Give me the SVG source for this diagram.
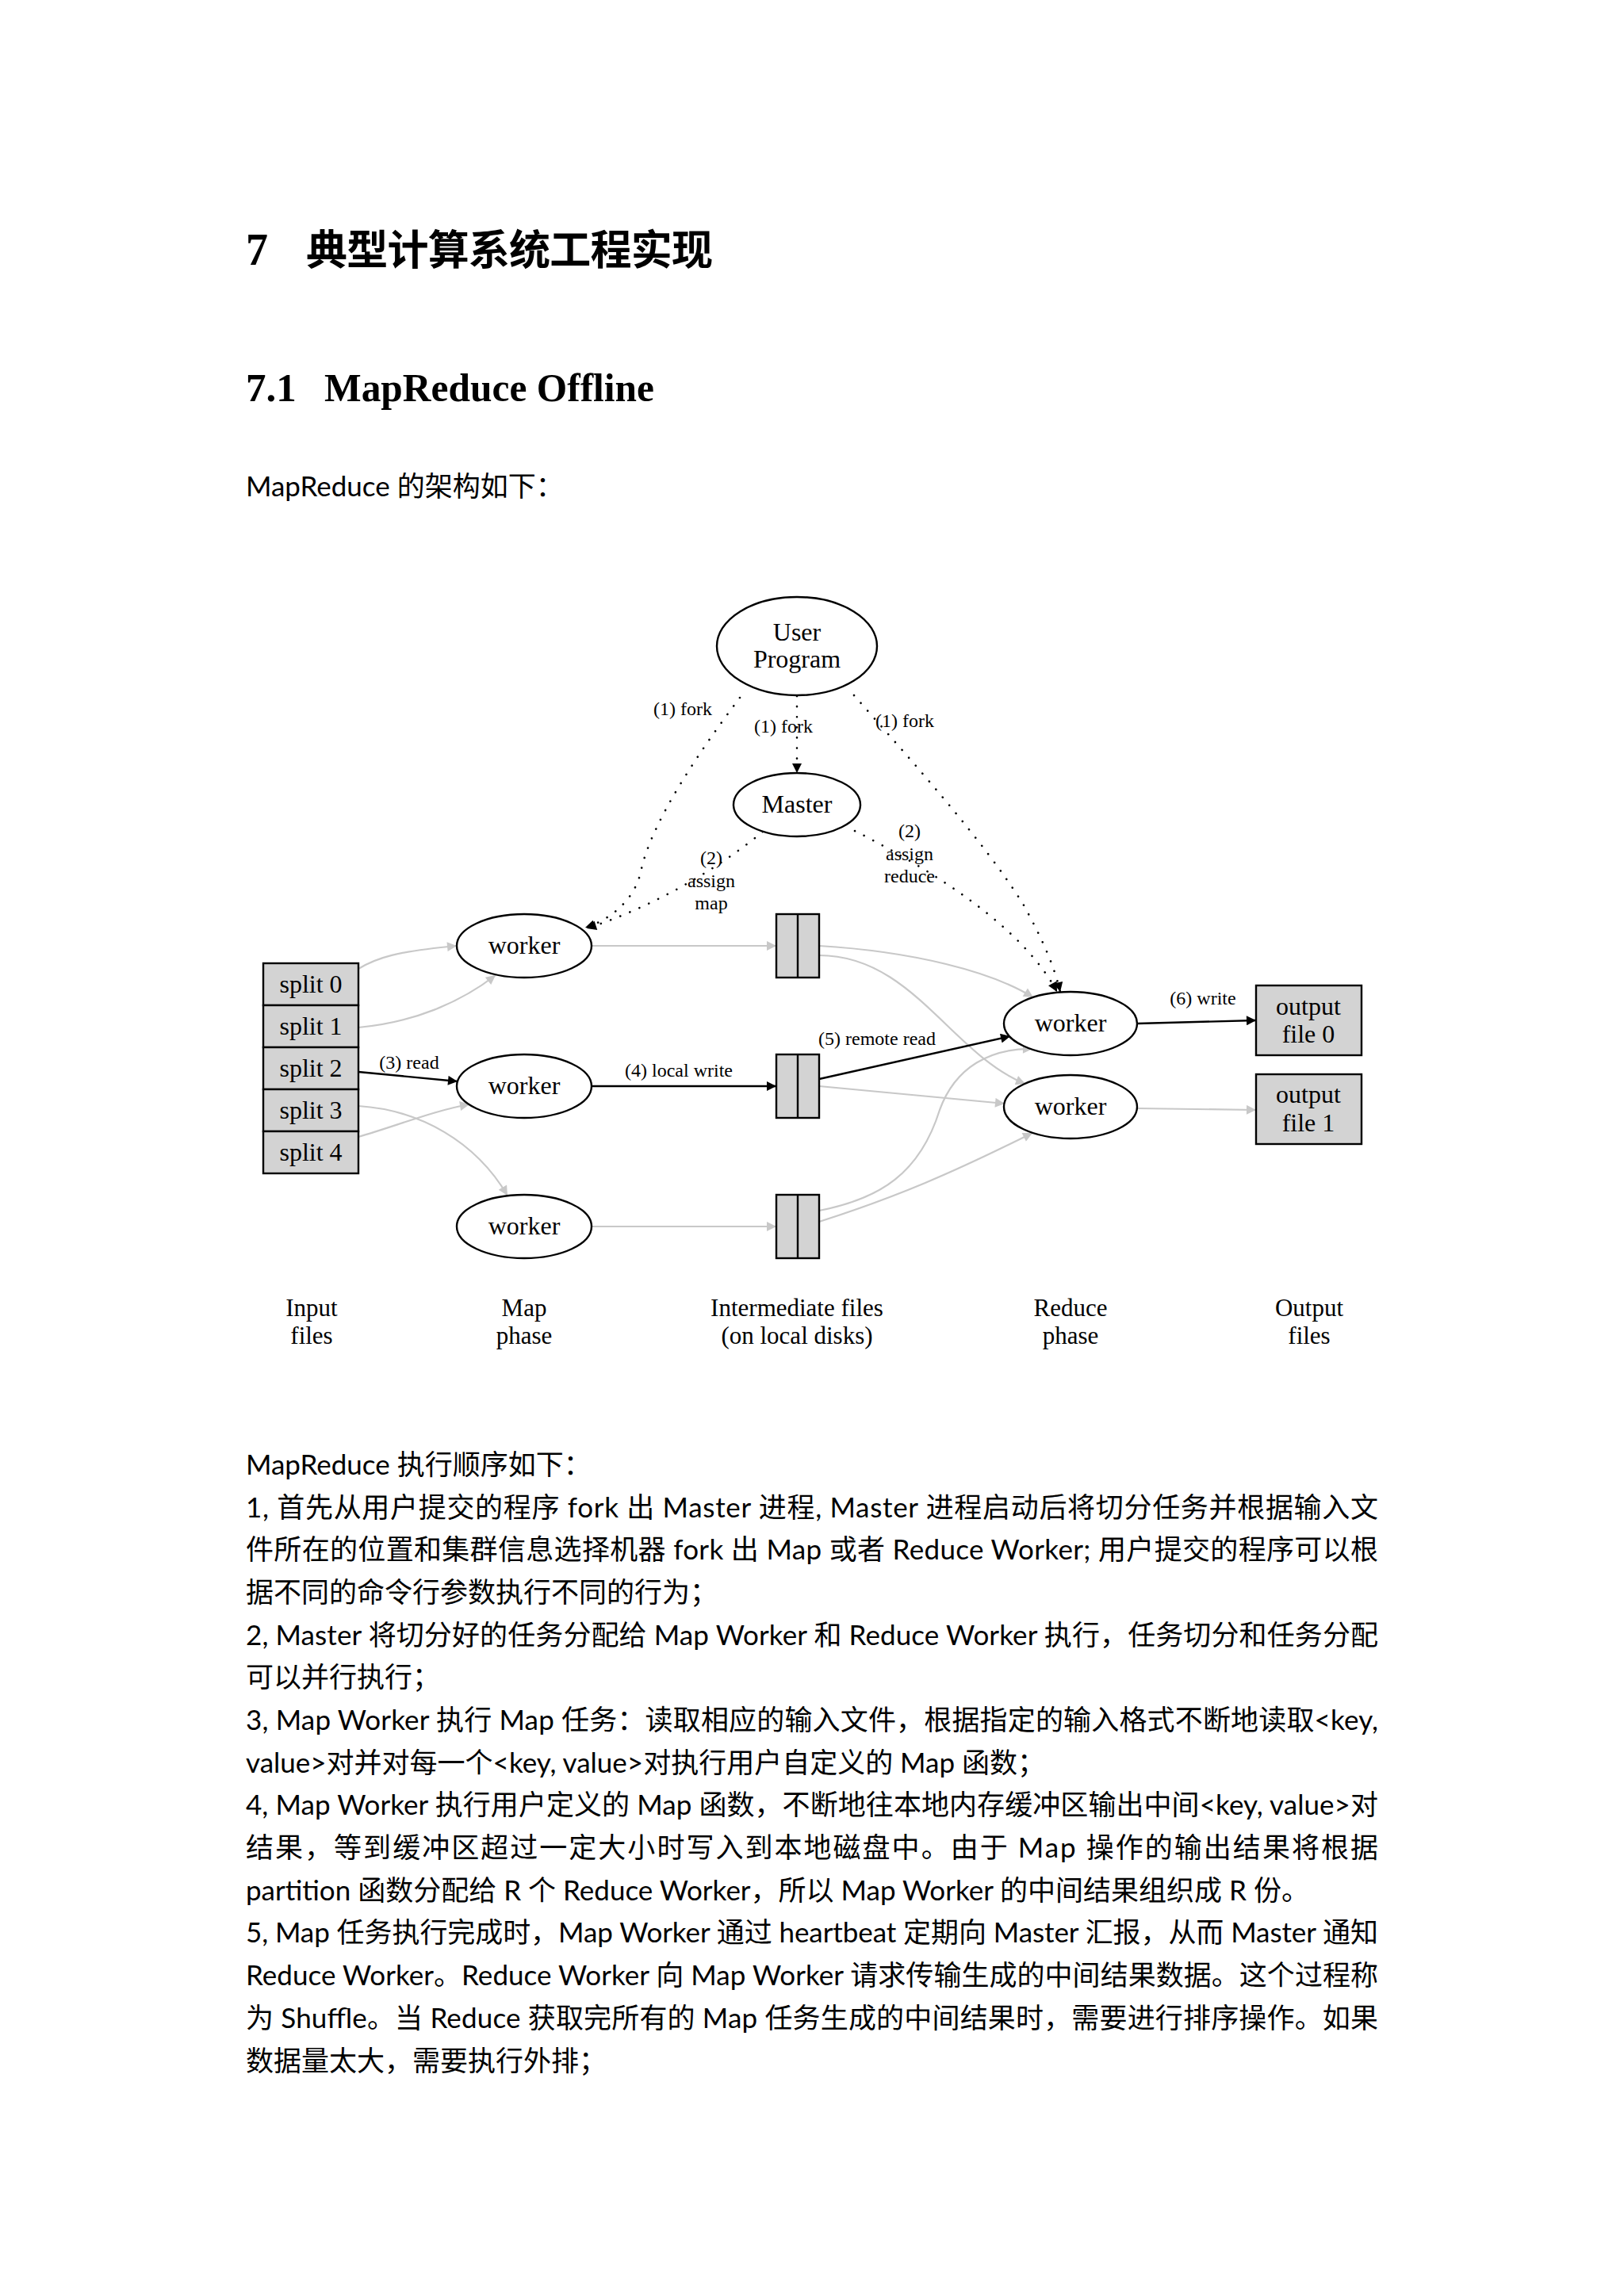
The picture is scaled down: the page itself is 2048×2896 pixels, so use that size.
<svg xmlns="http://www.w3.org/2000/svg" width="2048" height="2896" viewBox="0 0 2048 2896">
<style>
.serif{font-family:"Liberation Serif","Times New Roman",serif;fill:#000}
.node{font-size:32px;text-anchor:middle}
.elab{font-size:24px;text-anchor:middle}
.phase{font-size:31px;text-anchor:middle}
.body{font-family:Lato,"Noto Sans CJK SC",sans-serif;font-size:35px;fill:#000}
.gray{fill:none;stroke:#c8c8c8;stroke-width:2.2}
.blk{fill:none;stroke:#000;stroke-width:2.4}
.dot{fill:none;stroke:#000;stroke-width:2.6;stroke-dasharray:0.1 13;stroke-linecap:round}
.ell{fill:#fff;stroke:#000;stroke-width:2.4}
.box{fill:#d3d3d3;stroke:#000;stroke-width:2.4}
</style>
<defs>
<marker id="ab" viewBox="0 0 10 10" refX="10" refY="5" markerWidth="18" markerHeight="12" markerUnits="userSpaceOnUse" orient="auto"><path d="M0,0 L10,5 L0,10 z" fill="#000"/></marker>
<marker id="ag" viewBox="0 0 10 10" refX="10" refY="5" markerWidth="18" markerHeight="12" markerUnits="userSpaceOnUse" orient="auto"><path d="M0,0 L10,5 L0,10 z" fill="#c8c8c8"/></marker>
</defs>
<rect width="2048" height="2896" fill="#fff"/>

<g id="headings">
<text x="310" y="334" font-family="Liberation Serif,serif" font-weight="bold" font-size="56">7</text>
<text x="386" y="334" font-family="'Noto Sans CJK SC',sans-serif" font-weight="bold" font-size="52" textLength="513" lengthAdjust="spacing">典型计算系统工程实现</text>
<text x="310" y="506" font-family="Liberation Serif,serif" font-weight="bold" font-size="51">7.1</text>
<text x="409" y="506" font-family="Liberation Serif,serif" font-weight="bold" font-size="51" textLength="416" lengthAdjust="spacingAndGlyphs">MapReduce Offline</text>
<text class="body" x="310" y="626">MapReduce 的架构如下：</text>
</g>

<g id="connectors">
<!-- dotted control edges -->
<path class="dot" d="M933,880 C880,950 820,1040 808,1100 C800,1135 770,1160 738,1170" marker-end="url(#ab)"/>
<path class="dot" d="M962,1049 C900,1100 820,1145 740,1171" marker-end="url(#ab)"/>
<path class="dot" d="M1005,878 L1005,975" marker-end="url(#ab)"/>
<path class="dot" d="M1077,877 C1150,960 1240,1060 1290,1140 C1315,1185 1330,1220 1337,1251" marker-end="url(#ab)"/>
<path class="dot" d="M1078,1048 C1180,1100 1290,1170 1333,1251" marker-end="url(#ab)"/>
<!-- input splits to map workers -->
<path class="gray" d="M452,1222 C475,1208 500,1200 576,1193" marker-end="url(#ag)"/>
<path class="gray" d="M452,1296 C520,1290 580,1265 625,1230" marker-end="url(#ag)"/>
<path class="blk" d="M452,1352 L577,1364" marker-end="url(#ab)"/>
<path class="gray" d="M452,1395 C530,1400 600,1440 640,1508" marker-end="url(#ag)"/>
<path class="gray" d="M452,1434 C500,1420 550,1400 592,1393" marker-end="url(#ag)"/>
<!-- map workers to intermediate files -->
<path class="gray" d="M746,1193 L979,1193" marker-end="url(#ag)"/>
<path class="blk" d="M746,1370 L979,1370" marker-end="url(#ab)"/>
<path class="gray" d="M746,1547 L979,1547" marker-end="url(#ag)"/>
<!-- intermediate files to reduce workers -->
<path class="gray" d="M1033,1193 C1150,1200 1250,1225 1303,1258" marker-end="url(#ag)"/>
<path class="gray" d="M1033,1205 C1150,1205 1200,1330 1293,1367" marker-end="url(#ag)"/>
<path class="blk" d="M1033,1361 L1274,1307" marker-end="url(#ab)"/>
<path class="gray" d="M1033,1370 L1267,1392" marker-end="url(#ag)"/>
<path class="gray" d="M1033,1527 C1110,1512 1160,1480 1185,1400 C1205,1345 1250,1322 1302,1323" marker-end="url(#ag)"/>
<path class="gray" d="M1033,1541 C1130,1510 1200,1480 1302,1429" marker-end="url(#ag)"/>
<!-- reduce workers to output -->
<path class="blk" d="M1434,1291 L1584,1287" marker-end="url(#ab)"/>
<path class="gray" d="M1434,1398 L1584,1400" marker-end="url(#ag)"/>
<!-- edge labels -->
<text class="serif elab" x="861" y="902">(1) fork</text>
<text class="serif elab" x="988" y="924">(1) fork</text>
<text class="serif elab" x="1141" y="917">(1) fork</text>
<text class="serif elab" x="897" y="1090">(2)</text>
<text class="serif elab" x="897" y="1119">assign</text>
<text class="serif elab" x="897" y="1147">map</text>
<text class="serif elab" x="1147" y="1056">(2)</text>
<text class="serif elab" x="1147" y="1085">assign</text>
<text class="serif elab" x="1147" y="1113">reduce</text>
<text class="serif elab" x="516" y="1348">(3) read</text>
<text class="serif elab" x="856" y="1358">(4) local write</text>
<text class="serif elab" x="1106" y="1318">(5) remote read</text>
<text class="serif elab" x="1517" y="1267">(6) write</text>
</g>

<g id="user-program"><ellipse class="ell" cx="1005" cy="815" rx="101" ry="62"/><text class="serif node" x="1005" y="808">User</text><text class="serif node" x="1005" y="842">Program</text></g>
<g id="master"><ellipse class="ell" cx="1005" cy="1015" rx="80" ry="40"/><text class="serif node" x="1005" y="1025">Master</text></g>

<g id="splits">
<rect class="box" x="332" y="1215" width="120" height="53"/><text class="serif node" x="392" y="1252">split 0</text>
<rect class="box" x="332" y="1268" width="120" height="53"/><text class="serif node" x="392" y="1305">split 1</text>
<rect class="box" x="332" y="1321" width="120" height="53"/><text class="serif node" x="392" y="1358">split 2</text>
<rect class="box" x="332" y="1374" width="120" height="53"/><text class="serif node" x="392" y="1411">split 3</text>
<rect class="box" x="332" y="1427" width="120" height="53"/><text class="serif node" x="392" y="1464">split 4</text>
</g>

<g id="map-worker-0"><ellipse class="ell" cx="661" cy="1193" rx="85" ry="40"/><text class="serif node" x="661" y="1203">worker</text></g>
<g id="map-worker-1"><ellipse class="ell" cx="661" cy="1370" rx="85" ry="40"/><text class="serif node" x="661" y="1380">worker</text></g>
<g id="map-worker-2"><ellipse class="ell" cx="661" cy="1547" rx="85" ry="40"/><text class="serif node" x="661" y="1557">worker</text></g>

<g id="intermediate-0"><rect class="box" x="979" y="1153" width="54" height="80"/><line x1="1006" y1="1153" x2="1006" y2="1233" stroke="#000" stroke-width="2.4"/></g>
<g id="intermediate-1"><rect class="box" x="979" y="1330" width="54" height="80"/><line x1="1006" y1="1330" x2="1006" y2="1410" stroke="#000" stroke-width="2.4"/></g>
<g id="intermediate-2"><rect class="box" x="979" y="1507" width="54" height="80"/><line x1="1006" y1="1507" x2="1006" y2="1587" stroke="#000" stroke-width="2.4"/></g>

<g id="reduce-worker-0"><ellipse class="ell" cx="1350" cy="1291" rx="84" ry="40"/><text class="serif node" x="1350" y="1301">worker</text></g>
<g id="reduce-worker-1"><ellipse class="ell" cx="1350" cy="1396" rx="84" ry="40"/><text class="serif node" x="1350" y="1406">worker</text></g>

<g id="output-0"><rect class="box" x="1584" y="1243" width="133" height="88"/><text class="serif node" x="1650" y="1280">output</text><text class="serif node" x="1650" y="1315">file 0</text></g>
<g id="output-1"><rect class="box" x="1584" y="1355" width="133" height="88"/><text class="serif node" x="1650" y="1391">output</text><text class="serif node" x="1650" y="1427">file 1</text></g>

<g id="phase-labels">
<text class="serif phase" x="393" y="1660">Input</text><text class="serif phase" x="393" y="1695">files</text>
<text class="serif phase" x="661" y="1660">Map</text><text class="serif phase" x="661" y="1695">phase</text>
<text class="serif phase" x="1005" y="1660">Intermediate files</text><text class="serif phase" x="1005" y="1695">(on local disks)</text>
<text class="serif phase" x="1350" y="1660">Reduce</text><text class="serif phase" x="1350" y="1695">phase</text>
<text class="serif phase" x="1651" y="1660">Output</text><text class="serif phase" x="1651" y="1695">files</text>
</g>

<g id="body-text" class="body">
<text x="310" y="1860">MapReduce 执行顺序如下：</text>
<text x="310" y="1914" textLength="1428" lengthAdjust="spacing">1, 首先从用户提交的程序 fork 出 Master 进程, Master 进程启动后将切分任务并根据输入文</text>
<text x="310" y="1967" textLength="1428" lengthAdjust="spacing">件所在的位置和集群信息选择机器 fork 出 Map 或者 Reduce Worker; 用户提交的程序可以根</text>
<text x="310" y="2021">据不同的命令行参数执行不同的行为；</text>
<text x="310" y="2075" textLength="1428" lengthAdjust="spacing">2, Master 将切分好的任务分配给 Map Worker 和 Reduce Worker 执行，任务切分和任务分配</text>
<text x="310" y="2128">可以并行执行；</text>
<text x="310" y="2182" textLength="1428" lengthAdjust="spacing">3, Map Worker 执行 Map 任务：读取相应的输入文件，根据指定的输入格式不断地读取&lt;key,</text>
<text x="310" y="2236">value&gt;对并对每一个&lt;key, value&gt;对执行用户自定义的 Map 函数；</text>
<text x="310" y="2289" textLength="1428" lengthAdjust="spacing">4, Map Worker 执行用户定义的 Map 函数，不断地往本地内存缓冲区输出中间&lt;key, value&gt;对</text>
<text x="310" y="2343" textLength="1428" lengthAdjust="spacing">结果，等到缓冲区超过一定大小时写入到本地磁盘中。由于 Map 操作的输出结果将根据</text>
<text x="310" y="2397">partition 函数分配给 R 个 Reduce Worker，所以 Map Worker 的中间结果组织成 R 份。</text>
<text x="310" y="2450" textLength="1428" lengthAdjust="spacing">5, Map 任务执行完成时，Map Worker 通过 heartbeat 定期向 Master 汇报，从而 Master 通知</text>
<text x="310" y="2504" textLength="1428" lengthAdjust="spacing">Reduce Worker。Reduce Worker 向 Map Worker 请求传输生成的中间结果数据。这个过程称</text>
<text x="310" y="2558" textLength="1428" lengthAdjust="spacing">为 Shuffle。当 Reduce 获取完所有的 Map 任务生成的中间结果时，需要进行排序操作。如果</text>
<text x="310" y="2612">数据量太大，需要执行外排；</text>
</g>
</svg>
